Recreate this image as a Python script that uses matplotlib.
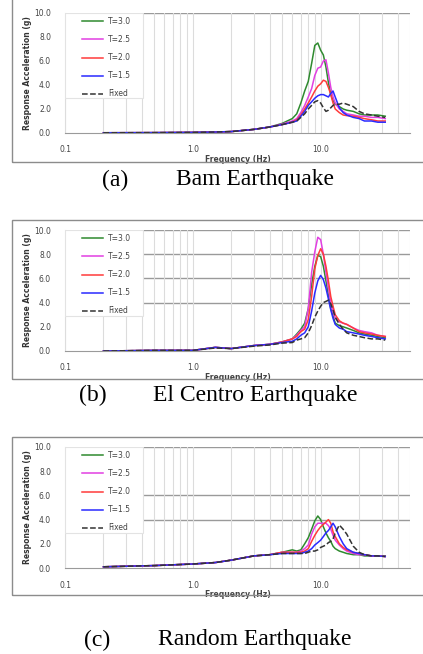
import numpy as np
import matplotlib
matplotlib.use('Agg')
import matplotlib.pyplot as plt
from matplotlib.patches import Rectangle

# frequency grid (Hz), shared by all three records
freq = [0.2, 0.5, 1.0, 1.5, 2.0, 3.0, 4.0, 5.0, 6.0, 6.5, 7.0, 7.5, 8.0, 8.5, 9.0, 9.5,
        10.0, 10.5, 11.0, 11.5, 12.0, 12.5, 13.0, 14.0, 15.0, 16.0, 18.0, 20.0, 22.0, 25.0, 28.0, 32.0]

labels = ['T=3.0', 'T=2.5', 'T=2.0', 'T=1.5', 'Fixed']
colors = ['#2f8a2f', '#e23fe2', '#ff3b3b', '#2a2aff', '#333333']
styles = ['-', '-', '-', '-', '--']

# (a) Bam
bam_t30 = [0.02, 0.03, 0.05, 0.08, 0.12, 0.3, 0.5, 0.8, 1.2, 1.6, 2.5, 3.5, 4.3, 5.8, 7.3, 7.5,
           6.9, 6.5, 5.5, 4.2, 3.2, 2.7, 2.4, 2.2, 2.0, 1.9, 1.8, 1.6, 1.5, 1.5, 1.5, 1.4]
bam_t25 = [0.02, 0.03, 0.05, 0.08, 0.12, 0.3, 0.5, 0.75, 1.0, 1.2, 1.7, 2.3, 3.0, 3.7, 4.8, 5.4,
           5.5, 6.0, 6.1, 5.0, 3.8, 3.0, 2.5, 2.0, 1.8, 1.6, 1.5, 1.4, 1.4, 1.3, 1.3, 1.2]
bam_t20 = [0.02, 0.03, 0.05, 0.08, 0.12, 0.3, 0.5, 0.7, 0.9, 1.1, 1.5, 2.0, 2.5, 3.0, 3.5, 3.9,
           4.1, 4.4, 4.3, 3.8, 3.2, 2.5, 2.0, 1.7, 1.5, 1.45, 1.4, 1.3, 1.2, 1.1, 1.0, 1.0]
bam_t15 = [0.02, 0.03, 0.05, 0.08, 0.12, 0.3, 0.5, 0.7, 0.9, 1.0, 1.4, 1.8, 2.3, 2.6, 2.9, 3.1,
           3.2, 3.2, 3.1, 3.0, 3.3, 3.5, 3.0, 2.1, 1.7, 1.5, 1.3, 1.2, 1.0, 1.0, 0.9, 0.9]
bam_fix = [0.02, 0.03, 0.05, 0.08, 0.12, 0.3, 0.5, 0.7, 0.9, 1.0, 1.3, 1.6, 2.0, 2.3, 2.6, 2.7,
           2.5, 2.1, 1.8, 1.9, 2.1, 2.3, 2.4, 2.4, 2.5, 2.4, 2.2, 1.8, 1.6, 1.5, 1.4, 1.3]

# (b) El Centro
elc_t30 = [0.0, 0.05, 0.05, 0.3, 0.2, 0.45, 0.55, 0.75, 1.0, 1.4, 1.8, 2.3, 3.5, 5.5, 7.0, 7.9,
           7.8, 7.0, 5.8, 4.6, 3.5, 2.9, 2.3, 2.1, 2.0, 1.9, 1.7, 1.5, 1.4, 1.3, 1.2, 1.1]
elc_t25 = [0.0, 0.05, 0.05, 0.3, 0.2, 0.45, 0.55, 0.75, 1.0, 1.3, 1.7, 2.0, 3.5, 6.5, 8.2, 9.4,
           9.2, 8.0, 6.5, 5.2, 4.0, 3.2, 2.7, 2.4, 2.3, 2.2, 1.9, 1.7, 1.6, 1.5, 1.3, 1.2]
elc_t20 = [0.0, 0.05, 0.05, 0.3, 0.2, 0.45, 0.55, 0.75, 1.0, 1.2, 1.6, 1.8, 2.6, 4.5, 6.8, 7.9,
           8.45, 8.0, 7.0, 5.8, 4.5, 3.7, 3.0, 2.5, 2.3, 2.2, 1.9, 1.6, 1.5, 1.4, 1.3, 1.2]
elc_t15 = [0.0, 0.05, 0.05, 0.3, 0.2, 0.45, 0.55, 0.7, 0.8, 1.0, 1.3, 1.5, 2.0, 3.3, 4.8, 5.8,
           6.25, 5.9, 5.2, 4.3, 3.4, 2.7, 2.2, 1.9, 1.8, 1.6, 1.5, 1.4, 1.3, 1.2, 1.1, 1.0]
elc_fix = [0.0, 0.05, 0.05, 0.25, 0.2, 0.4, 0.5, 0.65, 0.7, 0.9, 1.0, 1.1, 1.5, 2.1, 2.8, 3.3,
           3.7, 4.0, 4.1, 4.2, 3.9, 3.4, 2.8, 2.2, 1.8, 1.5, 1.3, 1.2, 1.1, 1.0, 1.0, 0.9]

# (c) Random
rnd_t30 = [0.1, 0.2, 0.33, 0.45, 0.65, 1.0, 1.1, 1.3, 1.5, 1.4, 1.5, 2.0, 2.5, 3.2, 3.9, 4.3,
           4.0, 3.4, 2.9, 2.5, 2.2, 1.8, 1.6, 1.4, 1.3, 1.2, 1.1, 1.1, 1.0, 1.0, 1.0, 1.0]
rnd_t25 = [0.1, 0.2, 0.33, 0.45, 0.65, 1.0, 1.1, 1.3, 1.3, 1.3, 1.4, 1.6, 1.9, 2.8, 3.4, 3.7,
           3.7, 3.7, 3.7, 3.5, 3.2, 2.7, 2.3, 1.9, 1.6, 1.4, 1.2, 1.1, 1.1, 1.0, 1.0, 0.95]
rnd_t20 = [0.1, 0.2, 0.33, 0.45, 0.65, 1.0, 1.1, 1.3, 1.3, 1.3, 1.3, 1.4, 1.6, 2.2, 2.7, 3.1,
           3.4, 3.6, 3.8, 4.0, 3.7, 3.0, 2.6, 2.0, 1.7, 1.5, 1.3, 1.2, 1.1, 1.0, 1.0, 0.95]
rnd_t15 = [0.1, 0.2, 0.33, 0.45, 0.65, 1.0, 1.1, 1.2, 1.2, 1.2, 1.2, 1.3, 1.4, 1.6, 1.9, 2.1,
           2.3, 2.6, 2.9, 3.1, 3.4, 3.7, 3.4, 2.6, 2.0, 1.6, 1.3, 1.2, 1.1, 1.0, 1.0, 0.95]
rnd_fix = [0.1, 0.2, 0.33, 0.45, 0.65, 1.0, 1.1, 1.2, 1.2, 1.2, 1.2, 1.2, 1.3, 1.4, 1.4, 1.5,
           1.7, 1.8, 1.9, 2.1, 2.2, 2.4, 2.9, 3.55, 3.2, 2.8, 1.8, 1.3, 1.1, 1.0, 1.0, 0.95]

panels = [
    ([bam_t30, bam_t25, bam_t20, bam_t15, bam_fix], '(a)', 'Bam Earthquake', [10]),
    ([elc_t30, elc_t25, elc_t20, elc_t15, elc_fix], '(b)', 'El Centro Earthquake', [4, 6, 8, 10]),
    ([rnd_t30, rnd_t25, rnd_t20, rnd_t15, rnd_fix], '(c)', 'Random Earthquake', [4, 6, 10]),
]

W, H = 423, 654
fig = plt.figure(figsize=(W / 100, H / 100), dpi=100)

# plot area (top, bottom), outer frame (top, bottom), caption y and tag x, in pixels
ax_px = [(13, 133), (230, 351), (447, 568)]
frame_px = [(-3, 162), (220, 379), (437, 595)]
cap_y = [180, 395, 640]
tag_x = [115, 93, 97]

for i, (series, tag, name, hlines) in enumerate(panels):
    top, bot = ax_px[i]
    ax = fig.add_axes([65 / W, 1 - bot / H, 345 / W, (bot - top) / H])
    ax.set_xscale('log')
    ax.set_xlim(0.1, 50)
    ax.set_ylim(0, 10)

    ax.grid(True, which='both', axis='x', color='#dcdcdc', lw=0.8)
    for h in hlines:
        ax.axhline(h, color='#9a9a9a', lw=1.0, zorder=0.5)

    for s, lab, c, ls in zip(series, labels, colors, styles):
        ax.plot(freq, s, color=c, ls=ls, lw=1.1, label=lab)

    ax.set_xticks([0.1, 1, 10])
    ax.set_xticklabels(['0.1', '1.0', '10.0'])
    ax.set_yticks([0, 2, 4, 6, 8, 10])
    ax.set_yticklabels(['%.1f' % v for v in [0, 2, 4, 6, 8, 10]])
    ax.tick_params(which='both', length=0, labelsize=5.5, colors='#444444')
    ax.tick_params(axis='y', pad=10)
    ax.tick_params(axis='x', pad=9)
    ax.set_xlabel('Frequency (Hz)', fontsize=5.5, fontweight='bold', color='#444444')
    ax.set_ylabel('Response Acceleration (g)', fontsize=5.5, fontweight='bold', color='#333333')
    ax.xaxis.set_label_coords(0.5, -22 / 120)
    ax.yaxis.set_label_coords(-33 / 345, 0.5)

    for sp in ['top', 'right']:
        ax.spines[sp].set_visible(False)
    ax.spines['left'].set_color('#dddddd')
    ax.spines['bottom'].set_color('#9a9a9a')

    # white legend box covering the grid
    ax.add_patch(Rectangle((0, 1 - 85 / 120), 78 / 345, 85 / 120, transform=ax.transAxes,
                           facecolor='white', edgecolor='#e3e3e3', lw=0.8, zorder=3))
    leg = ax.legend(loc='upper left', bbox_to_anchor=(17 / 345, 1 - 4 / 120), borderaxespad=0,
                    borderpad=0, fontsize=5.5, handlelength=2.75, labelspacing=1.19,
                    handletextpad=0.65, frameon=False)
    leg.set_zorder(4)
    for t in leg.get_texts():
        t.set_color('#444444')

    ft, fb = frame_px[i]
    fig.add_artist(Rectangle((12 / W, 1 - fb / H), 1.2, (fb - ft) / H, transform=fig.transFigure,
                             fill=False, edgecolor='#8c8c8c', lw=1.0))

    fig.text(tag_x[i] / W, 1 - cap_y[i] / H, tag, fontsize=17,
             family='Liberation Serif', ha='center', va='center')
    fig.text(255 / W, 1 - cap_y[i] / H, name, fontsize=17,
             family='Liberation Serif', ha='center', va='center')

fig.savefig('out.png', dpi=100)
